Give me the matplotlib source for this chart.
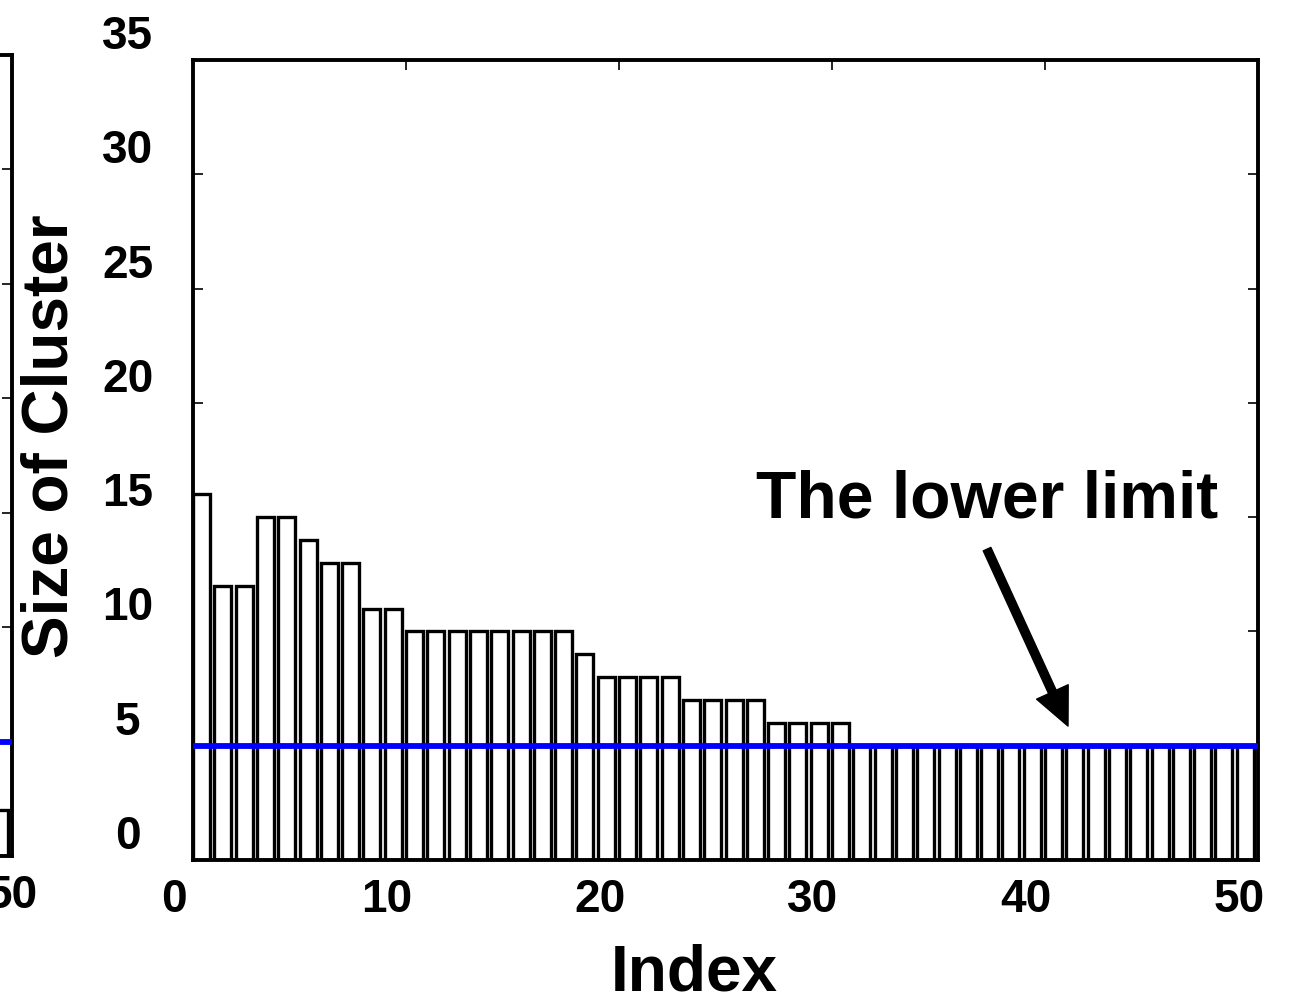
import numpy as np
import matplotlib
matplotlib.use('Agg')
import matplotlib.pyplot as plt
from matplotlib.transforms import ScaledTranslation

plt.rcParams['font.family'] = ['Liberation Sans', 'DejaVu Sans']
plt.rcParams['font.weight'] = 'bold'

# cluster sizes, sorted, index 0..49
index = np.arange(50)
cluster_size = [16, 12, 12, 15, 15, 14, 13, 13, 11, 11,
                10, 10, 10, 10, 10, 10, 10, 10, 9, 8,
                8, 8, 8, 7, 7, 7, 7, 6, 6, 6,
                6, 5, 5, 5, 5, 5, 5, 5, 5, 5,
                5, 5, 5, 5, 5, 5, 5, 5, 5, 5]
lower_limit = 5

# the neighbouring panel (only its right edge is in the picture)
left_index = [49]
left_size = [2]

x_ticks = [0, 10, 20, 30, 40, 50]
y_ticks = [0, 5, 10, 15, 20, 25, 30, 35]

W, H = 1291, 1004
fig = plt.figure(figsize=(W / 100, H / 100), dpi=100)


def style_axes(ax, xshift):
    ax.set_xlim(0, 50)
    ax.set_ylim(0, 35)
    ax.set_xticks(x_ticks)
    ax.set_yticks(y_ticks)
    for s in ax.spines.values():
        s.set_linewidth(2.8)
    ax.tick_params(direction='in', length=7, width=1.2, top=True, right=True,
                   labelsize=33)
    ax.tick_params(axis='y', pad=47)
    ax.tick_params(axis='x', pad=12)
    # labels sit lower-left of their ticks in the original
    for lab in ax.get_yticklabels():
        lab.set_horizontalalignment('center')
        lab.set_transform(lab.get_transform() + ScaledTranslation(0, 0.29, fig.dpi_scale_trans))
    for lab in ax.get_xticklabels():
        lab.set_transform(lab.get_transform() + ScaledTranslation(xshift, 0, fig.dpi_scale_trans))


ax_w = (1258 - 193) / W
# left panel, mostly off the figure
ax0 = fig.add_axes([12 / W - ax_w, (H - 857) / H, ax_w, (857 - 56) / H])
ax0.bar(left_index, left_size, width=0.8, align='edge', facecolor='white',
        edgecolor='black', linewidth=2.4, zorder=2)
ax0.axhline(lower_limit, color='#0000ff', lw=4.2, zorder=3)
style_axes(ax0, 0.0)
ax0.set_xticklabels(['', '', '', '', '', '50'])
ax0.set_yticklabels([''] * len(y_ticks))

ax = fig.add_axes([193 / W, (H - 861) / H, ax_w, (861 - 61) / H])
ax.bar(index, cluster_size, width=0.8, align='edge', facecolor='white',
       edgecolor='black', linewidth=2.4, zorder=2)
ax.axhline(lower_limit, color='#0000ff', lw=4.2, zorder=3)
style_axes(ax, -0.19)

ax.set_xlabel('Index', fontsize=46, fontweight='bold', va='center', ha='center')
ax.xaxis.set_label_coords(0.471, -0.141)
ax.set_ylabel('Size of Cluster', fontsize=46, fontweight='bold', va='center', ha='center')
ax.yaxis.set_label_coords(-0.134, 0.531)

ax.text(37.3, 15.75, 'The lower limit', fontsize=47.5, fontweight='bold',
        ha='center', va='center', zorder=5)
ax.annotate('', xy=(41.08, 5.86), xytext=(37.28, 13.6),
            arrowprops=dict(facecolor='black', edgecolor='black', width=6,
                            headwidth=25, headlength=27, shrink=0.0),
            zorder=5)

fig.savefig('out.png', dpi=100)
